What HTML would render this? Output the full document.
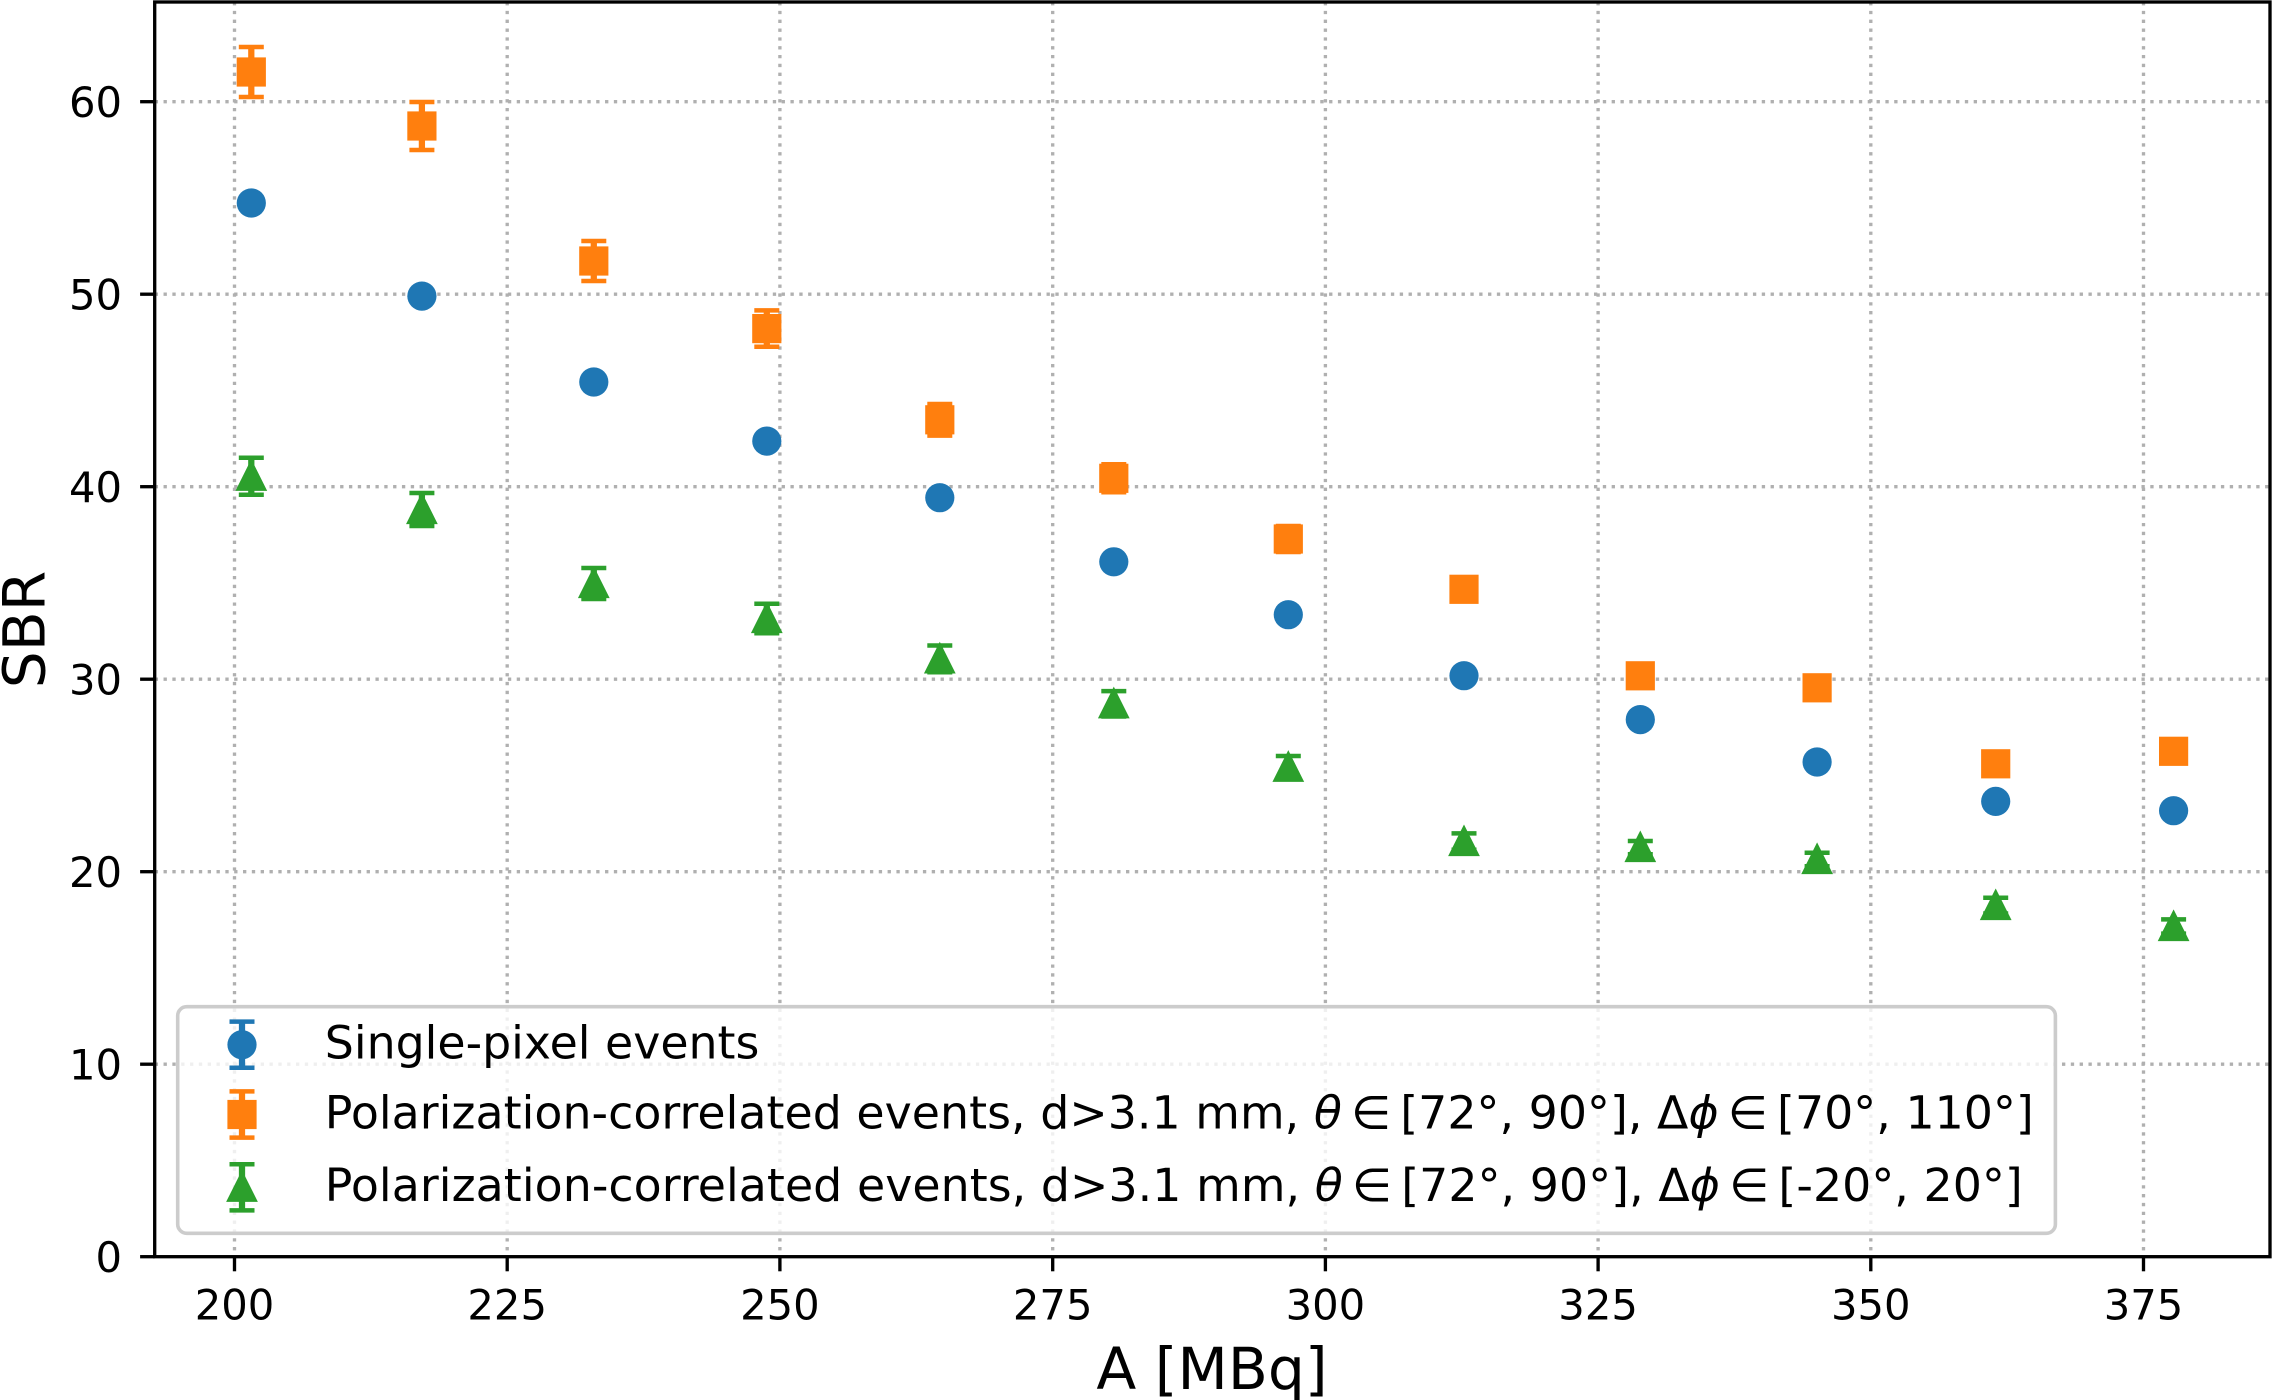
<!DOCTYPE html>
<html>
<head>
<meta charset="utf-8">
<style>
  html, body { margin: 0; padding: 0; background: #ffffff; }
  svg { display: block; }
  text { font-family: "DejaVu Sans", "Liberation Sans", sans-serif; fill: #000; }
  .tick { font-size: 41.7px; }
  .lab { font-size: 58.3px; }
  .leg { font-size: 45.8px; }
</style>
</head>
<body>
<svg width="2272" height="1400" viewBox="0 0 2272 1400" xmlns="http://www.w3.org/2000/svg">
  <rect x="0" y="0" width="2272" height="1400" fill="#ffffff"/>

  <!-- grid -->
  <g stroke="#b0b0b0" stroke-width="3.33" stroke-dasharray="3.33 5.5" fill="none">
    <line x1="234.5" y1="2" x2="234.5" y2="1256.7"/>
    <line x1="507.2" y1="2" x2="507.2" y2="1256.7"/>
    <line x1="779.9" y1="2" x2="779.9" y2="1256.7"/>
    <line x1="1052.7" y1="2" x2="1052.7" y2="1256.7"/>
    <line x1="1325.4" y1="2" x2="1325.4" y2="1256.7"/>
    <line x1="1598.1" y1="2" x2="1598.1" y2="1256.7"/>
    <line x1="1870.8" y1="2" x2="1870.8" y2="1256.7"/>
    <line x1="2143.5" y1="2" x2="2143.5" y2="1256.7"/>
    <line x1="154.7" y1="1064.2" x2="2270" y2="1064.2"/>
    <line x1="154.7" y1="871.7" x2="2270" y2="871.7"/>
    <line x1="154.7" y1="679.2" x2="2270" y2="679.2"/>
    <line x1="154.7" y1="486.7" x2="2270" y2="486.7"/>
    <line x1="154.7" y1="294.2" x2="2270" y2="294.2"/>
    <line x1="154.7" y1="101.7" x2="2270" y2="101.7"/>
  </g>

  <!-- orange error bars -->
  <g stroke="#ff7f0e" fill="none">
    <g stroke-width="6.25">
      <line x1="251.3" y1="47" x2="251.3" y2="97"/>
      <line x1="421.9" y1="102" x2="421.9" y2="150"/>
      <line x1="593.8" y1="241" x2="593.8" y2="281"/>
      <line x1="766.8" y1="310.4" x2="766.8" y2="346.8"/>
      <line x1="939.8" y1="404" x2="939.8" y2="435.6"/>
      <line x1="1113.8" y1="464.3" x2="1113.8" y2="492.3"/>
      <line x1="1288.3" y1="526" x2="1288.3" y2="552"/>
    </g>
    <g stroke-width="4.5">
      <line x1="238.8" y1="47" x2="263.8" y2="47"/><line x1="238.8" y1="97" x2="263.8" y2="97"/>
      <line x1="409.4" y1="102" x2="434.4" y2="102"/><line x1="409.4" y1="150" x2="434.4" y2="150"/>
      <line x1="581.3" y1="241" x2="606.3" y2="241"/><line x1="581.3" y1="281" x2="606.3" y2="281"/>
      <line x1="754.3" y1="310.4" x2="779.3" y2="310.4"/><line x1="754.3" y1="346.8" x2="779.3" y2="346.8"/>
      <line x1="927.3" y1="404" x2="952.3" y2="404"/><line x1="927.3" y1="435.6" x2="952.3" y2="435.6"/>
      <line x1="1101.3" y1="464.3" x2="1126.3" y2="464.3"/><line x1="1101.3" y1="492.3" x2="1126.3" y2="492.3"/>
      <line x1="1275.8" y1="526" x2="1300.8" y2="526"/><line x1="1275.8" y1="552" x2="1300.8" y2="552"/>
    </g>
  </g>

  <!-- green error bars -->
  <g stroke="#2ca02c" fill="none">
    <g stroke-width="6.25">
      <line x1="251.3" y1="457.8" x2="251.3" y2="494.8"/>
      <line x1="421.9" y1="493" x2="421.9" y2="526"/>
      <line x1="593.8" y1="568" x2="593.8" y2="599"/>
      <line x1="766.8" y1="603.8" x2="766.8" y2="633.2"/>
      <line x1="939.8" y1="645.5" x2="939.8" y2="672.3"/>
      <line x1="1113.8" y1="691.1" x2="1113.8" y2="716.5"/>
      <line x1="1288.3" y1="756" x2="1288.3" y2="778.6"/>
      <line x1="1464" y1="833.4" x2="1464" y2="849.8"/>
      <line x1="1640.3" y1="841" x2="1640.3" y2="854.2"/>
      <line x1="1817.1" y1="852.7" x2="1817.1" y2="866.3"/>
      <line x1="1995.7" y1="897.7" x2="1995.7" y2="913.5"/>
      <line x1="2173.6" y1="919.4" x2="2173.6" y2="933.6"/>
    </g>
    <g stroke-width="4.5">
      <line x1="238.8" y1="457.8" x2="263.8" y2="457.8"/><line x1="238.8" y1="494.8" x2="263.8" y2="494.8"/>
      <line x1="409.4" y1="493" x2="434.4" y2="493"/><line x1="409.4" y1="526" x2="434.4" y2="526"/>
      <line x1="581.3" y1="568" x2="606.3" y2="568"/><line x1="581.3" y1="599" x2="606.3" y2="599"/>
      <line x1="754.3" y1="603.8" x2="779.3" y2="603.8"/><line x1="754.3" y1="633.2" x2="779.3" y2="633.2"/>
      <line x1="927.3" y1="645.5" x2="952.3" y2="645.5"/><line x1="927.3" y1="672.3" x2="952.3" y2="672.3"/>
      <line x1="1101.3" y1="691.1" x2="1126.3" y2="691.1"/><line x1="1101.3" y1="716.5" x2="1126.3" y2="716.5"/>
      <line x1="1275.8" y1="756" x2="1300.8" y2="756"/><line x1="1275.8" y1="778.6" x2="1300.8" y2="778.6"/>
      <line x1="1451.5" y1="833.4" x2="1476.5" y2="833.4"/><line x1="1451.5" y1="849.8" x2="1476.5" y2="849.8"/>
      <line x1="1627.8" y1="841" x2="1652.8" y2="841"/><line x1="1627.8" y1="854.2" x2="1652.8" y2="854.2"/>
      <line x1="1804.6" y1="852.7" x2="1829.6" y2="852.7"/><line x1="1804.6" y1="866.3" x2="1829.6" y2="866.3"/>
      <line x1="1983.2" y1="897.7" x2="2008.2" y2="897.7"/><line x1="1983.2" y1="913.5" x2="2008.2" y2="913.5"/>
      <line x1="2161.1" y1="919.4" x2="2186.1" y2="919.4"/><line x1="2161.1" y1="933.6" x2="2186.1" y2="933.6"/>
    </g>
  </g>

  <!-- blue circles -->
  <g fill="#1f77b4">
    <circle cx="251.3" cy="203.0" r="14.6"/>
    <circle cx="421.9" cy="296.1" r="14.6"/>
    <circle cx="593.8" cy="382.0" r="14.6"/>
    <circle cx="766.8" cy="441.1" r="14.6"/>
    <circle cx="939.8" cy="497.7" r="14.6"/>
    <circle cx="1113.8" cy="561.8" r="14.6"/>
    <circle cx="1288.3" cy="614.7" r="14.6"/>
    <circle cx="1464" cy="675.7" r="14.6"/>
    <circle cx="1640.3" cy="719.6" r="14.6"/>
    <circle cx="1817.1" cy="762.0" r="14.6"/>
    <circle cx="1995.7" cy="801.4" r="14.6"/>
    <circle cx="2173.6" cy="810.7" r="14.6"/>
  </g>

  <!-- orange squares -->
  <g fill="#ff7f0e">
    <rect x="236.7" y="57.4" width="29.2" height="29.2"/>
    <rect x="407.3" y="111.4" width="29.2" height="29.2"/>
    <rect x="579.2" y="246.4" width="29.2" height="29.2"/>
    <rect x="752.2" y="314" width="29.2" height="29.2"/>
    <rect x="925.2" y="405.2" width="29.2" height="29.2"/>
    <rect x="1099.2" y="463.7" width="29.2" height="29.2"/>
    <rect x="1273.7" y="524.4" width="29.2" height="29.2"/>
    <rect x="1449.4" y="574.7" width="29.2" height="29.2"/>
    <rect x="1625.7" y="661.2" width="29.2" height="29.2"/>
    <rect x="1802.5" y="673.2" width="29.2" height="29.2"/>
    <rect x="1981.1" y="749.2" width="29.2" height="29.2"/>
    <rect x="2159" y="736.7" width="29.2" height="29.2"/>
  </g>

  <!-- green triangles -->
  <g fill="#2ca02c" stroke="#2ca02c" stroke-width="4.17" stroke-linejoin="miter" stroke-miterlimit="10">
    <polygon points="251.3,463.8 238.8,488.8 263.8,488.8"/>
    <polygon points="421.9,497 409.4,522 434.4,522"/>
    <polygon points="593.8,571 581.3,596 606.3,596"/>
    <polygon points="766.8,606 754.3,631 779.3,631"/>
    <polygon points="939.8,646.4 927.3,671.4 952.3,671.4"/>
    <polygon points="1113.8,691.3 1101.3,716.3 1126.3,716.3"/>
    <polygon points="1288.3,754.8 1275.8,779.8 1300.8,779.8"/>
    <polygon points="1464,829.1 1451.5,854.1 1476.5,854.1"/>
    <polygon points="1640.3,835.1 1627.8,860.1 1652.8,860.1"/>
    <polygon points="1817.1,847 1804.6,872 1829.6,872"/>
    <polygon points="1995.7,893.1 1983.2,918.1 2008.2,918.1"/>
    <polygon points="2173.6,914 2161.1,939 2186.1,939"/>
  </g>

  <!-- spines -->
  <rect x="154.7" y="2" width="2115.3" height="1254.7" fill="none" stroke="#000" stroke-width="3.33"/>

  <!-- ticks -->
  <g stroke="#000" stroke-width="3.33">
    <line x1="234.5" y1="1256.7" x2="234.5" y2="1271.3"/>
    <line x1="507.2" y1="1256.7" x2="507.2" y2="1271.3"/>
    <line x1="779.9" y1="1256.7" x2="779.9" y2="1271.3"/>
    <line x1="1052.7" y1="1256.7" x2="1052.7" y2="1271.3"/>
    <line x1="1325.4" y1="1256.7" x2="1325.4" y2="1271.3"/>
    <line x1="1598.1" y1="1256.7" x2="1598.1" y2="1271.3"/>
    <line x1="1870.8" y1="1256.7" x2="1870.8" y2="1271.3"/>
    <line x1="2143.5" y1="1256.7" x2="2143.5" y2="1271.3"/>
    <line x1="140.1" y1="1256.7" x2="154.7" y2="1256.7"/>
    <line x1="140.1" y1="1064.2" x2="154.7" y2="1064.2"/>
    <line x1="140.1" y1="871.7" x2="154.7" y2="871.7"/>
    <line x1="140.1" y1="679.2" x2="154.7" y2="679.2"/>
    <line x1="140.1" y1="486.7" x2="154.7" y2="486.7"/>
    <line x1="140.1" y1="294.2" x2="154.7" y2="294.2"/>
    <line x1="140.1" y1="101.7" x2="154.7" y2="101.7"/>
  </g>

  <!-- x tick labels -->
  <g class="tick" text-anchor="middle">
    <text x="234.5" y="1319.3">200</text>
    <text x="507.2" y="1319.3">225</text>
    <text x="779.9" y="1319.3">250</text>
    <text x="1052.7" y="1319.3">275</text>
    <text x="1325.4" y="1319.3">300</text>
    <text x="1598.1" y="1319.3">325</text>
    <text x="1870.8" y="1319.3">350</text>
    <text x="2143.5" y="1319.3">375</text>
  </g>
  <!-- y tick labels -->
  <g class="tick" text-anchor="end">
    <text x="122" y="1271.9">0</text>
    <text x="122" y="1079.4">10</text>
    <text x="122" y="886.9">20</text>
    <text x="122" y="694.4">30</text>
    <text x="122" y="501.9">40</text>
    <text x="122" y="309.4">50</text>
    <text x="122" y="116.9">60</text>
  </g>

  <!-- axis labels -->
  <text class="lab" x="1212" y="1389" text-anchor="middle">A [MBq]</text>
  <text class="lab" transform="translate(44.5,629.5) rotate(-90)" text-anchor="middle">SBR</text>

  <!-- legend -->
  <rect x="177.7" y="1006.7" width="1877.7" height="226.6" rx="9" ry="9" fill="#ffffff" fill-opacity="0.8" stroke="#cccccc" stroke-width="3.6"/>

  <!-- legend handles -->
  <g stroke="#1f77b4" fill="none">
    <line x1="242" y1="1021.6" x2="242" y2="1067.8" stroke-width="6.25"/>
    <line x1="229.5" y1="1021.6" x2="254.5" y2="1021.6" stroke-width="4.5"/>
    <line x1="229.5" y1="1067.8" x2="254.5" y2="1067.8" stroke-width="4.5"/>
  </g>
  <circle cx="242" cy="1044.7" r="14.6" fill="#1f77b4"/>

  <g stroke="#ff7f0e" fill="none">
    <line x1="242" y1="1091.4" x2="242" y2="1137.6" stroke-width="6.25"/>
    <line x1="229.5" y1="1091.4" x2="254.5" y2="1091.4" stroke-width="4.5"/>
    <line x1="229.5" y1="1137.6" x2="254.5" y2="1137.6" stroke-width="4.5"/>
  </g>
  <rect x="227.4" y="1099.9" width="29.2" height="29.2" fill="#ff7f0e"/>

  <g stroke="#2ca02c" fill="none">
    <line x1="242" y1="1164.2" x2="242" y2="1210.4" stroke-width="6.25"/>
    <line x1="229.5" y1="1164.2" x2="254.5" y2="1164.2" stroke-width="4.5"/>
    <line x1="229.5" y1="1210.4" x2="254.5" y2="1210.4" stroke-width="4.5"/>
  </g>
  <polygon points="242,1174.8 229.5,1199.8 254.5,1199.8" fill="#2ca02c" stroke="#2ca02c" stroke-width="4.17" stroke-linejoin="miter"/>

  <!-- legend text -->
  <text class="leg" x="324.8" y="1058.5">Single-pixel events</text>
  <text class="leg" x="324.8" y="1128.3" textLength="1709" lengthAdjust="spacing">Polarization-correlated events, d&gt;3.1 mm, <tspan font-style="italic">θ</tspan>&#8201;∈&#8201;[72°, 90°], Δ<tspan font-style="italic">ϕ</tspan>&#8201;∈&#8201;[70°, 110°]</text>
  <text class="leg" x="324.8" y="1201" textLength="1698" lengthAdjust="spacing">Polarization-correlated events, d&gt;3.1 mm, <tspan font-style="italic">θ</tspan>&#8201;∈&#8201;[72°, 90°], Δ<tspan font-style="italic">ϕ</tspan>&#8201;∈&#8201;[-20°, 20°]</text>
</svg>
</body>
</html>
